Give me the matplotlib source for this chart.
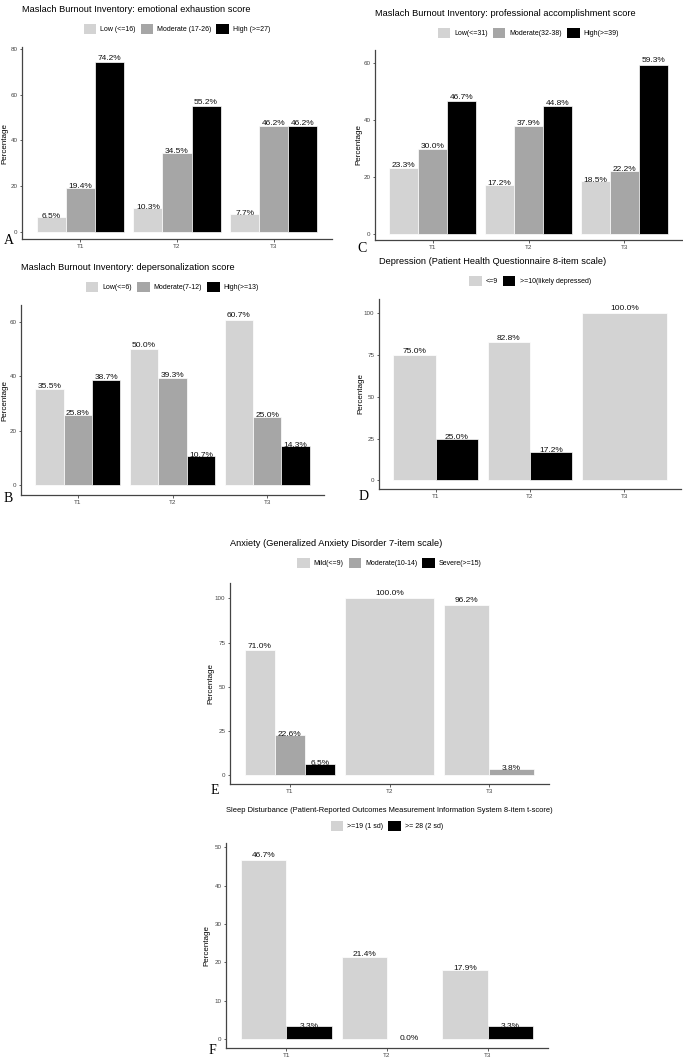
import matplotlib
matplotlib.use("Agg")
import matplotlib.pyplot as plt
from matplotlib.patches import Patch

plt.rcParams['font.family'] = ['Liberation Sans', 'DejaVu Sans']

times = ["T1", "T2", "T3"]

# A - emotional exhaustion
ee_labels = ["Low (<=16)", "Moderate (17-26)", "High (>=27)"]
ee_low = [6.5, 10.3, 7.7]
ee_mod = [19.4, 34.5, 46.2]
ee_high = [74.2, 55.2, 46.2]

# C - professional accomplishment
pa_labels = ["Low(<=31)", "Moderate(32-38)", "High(>=39)"]
pa_low = [23.3, 17.2, 18.5]
pa_mod = [30.0, 37.9, 22.2]
pa_high = [46.7, 44.8, 59.3]

# B - depersonalization
dp_labels = ["Low(<=6)", "Moderate(7-12)", "High(>=13)"]
dp_low = [35.5, 50.0, 60.7]
dp_mod = [25.8, 39.3, 25.0]
dp_high = [38.7, 10.7, 14.3]

# D - depression (None = category absent)
dep_labels = ["<=9", ">=10(likely depressed)"]
dep_low = [75.0, 82.8, 100.0]
dep_high = [25.0, 17.2, None]

# E - anxiety
anx_labels = ["Mild(<=9)", "Moderate(10-14)", "Severe(>=15)"]
anx_mild = [71.0, 100.0, 96.2]
anx_mod = [22.6, None, 3.8]
anx_sev = [6.5, None, None]

# F - sleep disturbance
sl_labels = [">=19 (1 sd)", ">= 28 (2 sd)"]
sl_1sd = [46.7, 21.4, 17.9]
sl_2sd = [3.3, 0.0, 3.3]

light, mid, dark = "#D3D3D3", "#A6A6A6", "#000000"

W, H = 683, 1059
fig = plt.figure(figsize=(W / 100, H / 100), dpi=100)


def panel(box, series, labels, colors, yticks, ylim, title, title_y, leg_y,
          letter, letter_xy, ylab_x, title_size=6.7):
    l, t, r, b = box
    ax = fig.add_axes([l / W, 1 - b / H, (r - l) / W, (b - t) / H])
    for i in range(len(times)):
        present = [k for k in range(len(series)) if series[k][i] is not None]
        w = 0.9 / len(present)
        for j, k in enumerate(present):
            x = i + 1 - 0.45 + w * (j + 0.5)
            v = series[k][i]
            ax.bar(x, v, width=w, color=colors[k], edgecolor="white", linewidth=0.5)
            ax.text(x, v * 1.025, f"{v:.1f}%", ha="center", va="center",
                    fontsize=6, color="#111111")
    ax.set_xlim(0.4, 3.6)
    ax.set_ylim(*ylim)
    ax.set_xticks([1, 2, 3])
    ax.set_xticklabels(times)
    ax.set_yticks(yticks)
    for s in ["top", "right"]:
        ax.spines[s].set_visible(False)
    for s in ["left", "bottom"]:
        ax.spines[s].set_color("#444444")
        ax.spines[s].set_linewidth(0.9)
    ax.tick_params(labelsize=4.5, colors="#444444", length=1.8, width=0.6, pad=1.5)
    cx = (l + r) / 2
    fig.text(l / W, 1 - title_y / H, title, ha="left", va="center", fontsize=title_size)
    handles = [Patch(facecolor=c, edgecolor="none") for c in colors]
    fig.legend(handles, labels, loc="center", bbox_to_anchor=(cx / W, 1 - leg_y / H),
               ncol=len(labels), frameon=False, fontsize=5, handlelength=1.8,
               handleheight=2.0, handletextpad=0.6, columnspacing=0.7,
               borderpad=0, borderaxespad=0)
    fig.text(ylab_x / W, 1 - (t + b) / 2 / H, "Percentage", rotation=90,
             ha="center", va="center", fontsize=5.8)
    fig.text(letter_xy[0] / W, 1 - letter_xy[1] / H, letter, ha="left", va="center",
             fontsize=10, family="Liberation Serif")
    return ax


panel((22, 47, 332, 239), [ee_low, ee_mod, ee_high], ee_labels, [light, mid, dark],
      [0, 20, 40, 60, 80], (-3.1, 80.9),
      "Maslach Burnout Inventory: emotional exhaustion score", 10, 29,
      "A", (4, 240), 5)

panel((375, 50, 682, 240), [pa_low, pa_mod, pa_high], pa_labels, [light, mid, dark],
      [0, 20, 40, 60], (-2.1, 64.6),
      "Maslach Burnout Inventory: professional accomplishment score", 14, 33,
      "C", (357, 248), 359)

panel((21, 305, 324, 495), [dp_low, dp_mod, dp_high], dp_labels, [light, mid, dark],
      [0, 20, 40, 60], (-3.5, 66.1),
      "Maslach Burnout Inventory: depersonalization score", 268, 287,
      "B", (4, 498), 5)

panel((379, 299, 681, 489), [dep_low, dep_high], dep_labels, [light, dark],
      [0, 25, 50, 75, 100], (-5.1, 108.4),
      "Depression (Patient Health Questionnaire 8-item scale)", 262, 281,
      "D", (359, 497), 361)

panel((230, 583, 549, 784), [anx_mild, anx_mod, anx_sev], anx_labels, [light, mid, dark],
      [0, 25, 50, 75, 100], (-4.9, 108.7),
      "Anxiety (Generalized Anxiety Disorder 7-item scale)", 543, 563,
      "E", (211, 790), 211)

panel((226, 843, 548, 1048), [sl_1sd, sl_2sd], sl_labels, [light, dark],
      [0, 10, 20, 30, 40, 50], (-2.35, 51.1),
      "Sleep Disturbance (Patient-Reported Outcomes Measurement Information System 8-item t-score)",
      811, 826, "F", (209, 1050), 207, title_size=5.4)

fig.savefig("out.png", dpi=100)
